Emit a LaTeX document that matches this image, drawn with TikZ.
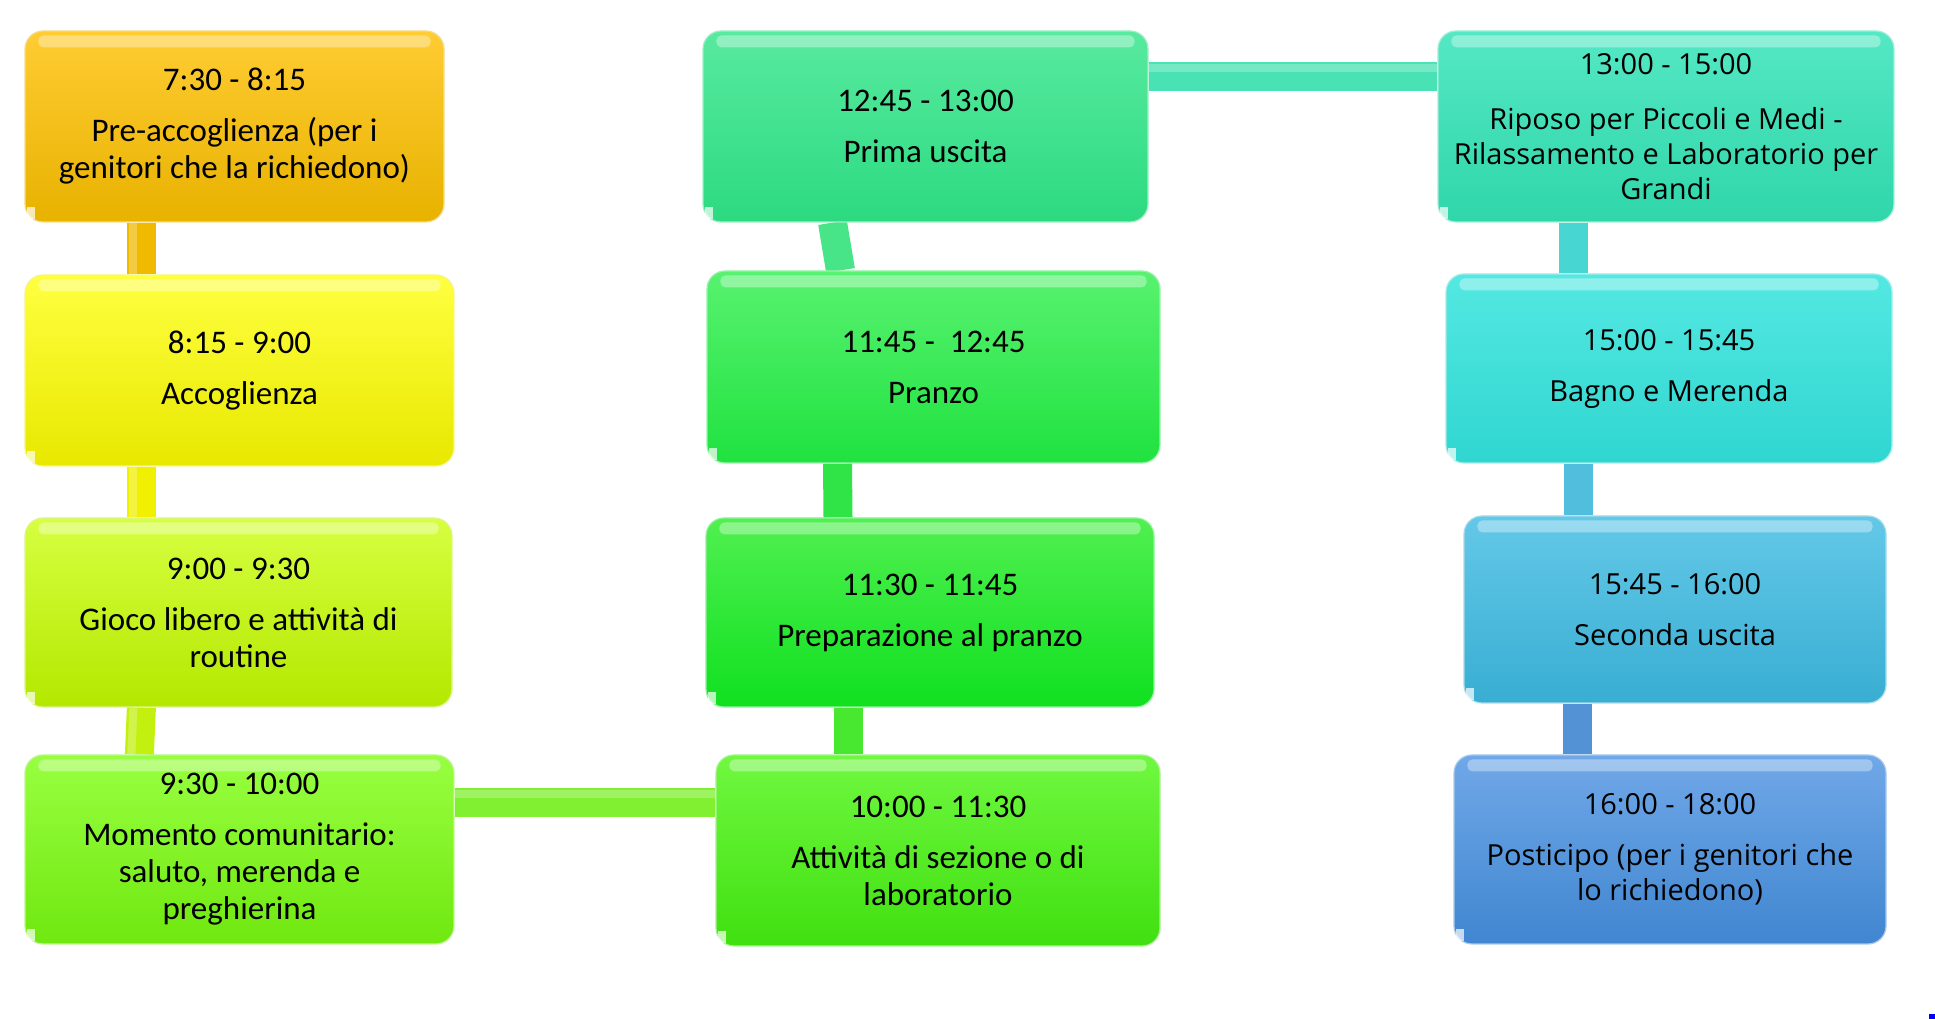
\documentclass[tikz,border=0pt]{standalone}
\usepackage{fontspec}
\setmainfont{Carlito}
\newfontfamily\rightfont{Open Sans}
\usetikzlibrary{backgrounds}
\definecolor{t1}{RGB}{255,204,51}\definecolor{u1}{RGB}{232,178,0}
\definecolor{t2}{RGB}{255,255,64}\definecolor{u2}{RGB}{232,232,0}
\definecolor{t3}{RGB}{214,255,64}\definecolor{u3}{RGB}{180,232,0}
\definecolor{t4}{RGB}{152,255,64}\definecolor{u4}{RGB}{112,232,16}
\definecolor{t5}{RGB}{112,248,64}\definecolor{u5}{RGB}{64,224,16}
\definecolor{t6}{RGB}{80,240,80}\definecolor{u6}{RGB}{16,224,32}
\definecolor{t7}{RGB}{88,242,112}\definecolor{u7}{RGB}{32,226,64}
\definecolor{t8}{RGB}{88,234,160}\definecolor{u8}{RGB}{44,218,128}
\definecolor{t9}{RGB}{84,232,196}\definecolor{u9}{RGB}{48,214,170}
\definecolor{t10}{RGB}{84,232,226}\definecolor{u10}{RGB}{48,214,208}
\definecolor{t11}{RGB}{100,200,232}\definecolor{u11}{RGB}{56,174,210}
\definecolor{t12}{RGB}{112,168,232}\definecolor{u12}{RGB}{64,134,208}
\definecolor{c1}{RGB}{240,186,0}
\definecolor{c2}{RGB}{240,240,0}
\definecolor{c3}{RGB}{196,240,16}
\definecolor{c4}{RGB}{128,240,48}
\definecolor{c5}{RGB}{72,232,48}
\definecolor{c6}{RGB}{48,228,72}
\definecolor{c7}{RGB}{72,228,136}
\definecolor{c8}{RGB}{72,226,180}
\definecolor{c9}{RGB}{72,214,210}
\definecolor{c10}{RGB}{80,190,220}
\definecolor{c11}{RGB}{84,146,214}
\tikzset{
  box/.style={rounded corners=18pt, draw=white!55!u#1, line width=1.2pt, align=center,
    inner sep=0pt, top color=t#1, bottom color=u#1, font=\fontsize{33}{37}\selectfont},
  rbox/.style={box=#1, font=\rightfont\fontsize{29}{35}\selectfont},
  conn/.style={line width=29pt, draw=c#1},
  connhi/.style={line width=8pt, draw=white, opacity=0.25},
}
\newcommand{\gloss}[1]{%
  \fill[white, opacity=0.35, rounded corners=5pt]
    ([xshift=14pt,yshift=-5pt]#1.north west) rectangle ([xshift=-14pt,yshift=-17pt]#1.north east);
  \fill[white, opacity=0.7]
    ([xshift=3pt,yshift=4pt]#1.south west) rectangle ([xshift=11pt,yshift=16pt]#1.south west);
}
\begin{document}
\begin{tikzpicture}[x=1pt, y=1pt]
\useasboundingbox (0,0) rectangle (1935,1019);
% left column
\node[box=1, minimum width=419pt, minimum height=191pt] (b1) at (234.5,892.5)
  {7:30 - 8:15\\[14pt]Pre-accoglienza (per i\\genitori che la richiedono)};
\node[box=2, minimum width=429pt, minimum height=191pt] (b2) at (239.5,648.5)
  {8:15 - 9:00\\[14pt]Accoglienza};
\node[box=3, minimum width=427pt, minimum height=189pt] (b3) at (238.5,406.5)
  {9:00 - 9:30\\[14pt]Gioco libero e attività di\\routine};
\node[box=4, minimum width=429pt, minimum height=189pt] (b4) at (239.5,169.5)
  {9:30 - 10:00\\[14pt]Momento comunitario:\\saluto, merenda e\\preghierina};
% middle column
\node[box=5, minimum width=444pt, minimum height=191pt] (b5) at (938,168.5)
  {10:00 - 11:30\\[14pt]Attività di sezione o di\\laboratorio};
\node[box=6, minimum width=448pt, minimum height=189pt] (b6) at (930,406.5)
  {11:30 - 11:45\\[14pt]Preparazione al pranzo};
\node[box=7, minimum width=453pt, minimum height=192pt] (b7) at (933.5,652)
  {11:45 -\ \ 12:45\\[14pt]Pranzo};
\node[box=8, minimum width=445pt, minimum height=191pt] (b8) at (925.5,892.5)
  {12:45 - 13:00\\[14pt]Prima uscita};
% right column
\node[rbox=9, minimum width=456pt, minimum height=191pt] (b9) at (1666,892.5)
  {13:00 - 15:00\\[20pt]Riposo per Piccoli e Medi -\\Rilassamento e Laboratorio per\\Grandi};
\node[rbox=10, minimum width=446pt, minimum height=189pt] (b10) at (1669,650.5)
  {15:00 - 15:45\\[16pt]Bagno e Merenda};
\node[rbox=11, minimum width=422pt, minimum height=187pt] (b11) at (1675,409.5)
  {15:45 - 16:00\\[16pt]Seconda uscita};
\node[rbox=12, minimum width=432pt, minimum height=189pt] (b12) at (1670,169.5)
  {16:00 - 18:00\\[16pt]Posticipo (per i genitori che\\lo richiedono)};
\foreach \n in {b1,b2,b3,b4,b5,b6,b7,b8,b9,b10,b11,b12} {\gloss{\n}}
% connectors
\begin{scope}[on background layer]
\fill[white] (0,0) rectangle (1935,1019);
\draw[conn=1] ([xshift=117pt]b1.south west) -- ([xshift=117pt]b2.north west);
\draw[conn=2] ([xshift=117pt]b2.south west) -- ([xshift=117pt]b3.north west);
\draw[conn=3] ([xshift=117pt]b3.south west) -- ([xshift=115pt]b4.north west);
\draw[conn=4] ([yshift=47pt]b4.east) -- ([yshift=47pt]b4.east -| b5.west);
\draw[conn=5] ([xshift=-90pt]b5.north) -- ([xshift=-82pt]b6.south);
\draw[conn=6] ([xshift=-92pt]b6.north) -- ([xshift=-96pt]b7.south);
\draw[conn=7] ([xshift=-93pt]b7.north) -- ([xshift=-93pt]b8.south);
\draw[conn=8] ([yshift=-46pt]b8.north east) -- ([yshift=-46pt]b8.north east -| b9.west);
\draw[conn=9] ([xshift=-93pt]b9.south) -- ([xshift=-96pt]b10.north);
\draw[conn=10] ([xshift=-91pt]b10.south) -- ([xshift=-97pt]b11.north);
\draw[conn=11] ([xshift=-98pt]b11.south) -- ([xshift=-93pt]b12.north);
\draw[connhi] ([xshift=109pt]b1.south west) -- ([xshift=109pt]b2.north west);
\draw[connhi] ([xshift=109pt]b2.south west) -- ([xshift=109pt]b3.north west);
\draw[connhi] ([xshift=109pt]b3.south west) -- ([xshift=107pt]b4.north west);
\draw[connhi] ([yshift=55pt]b4.east) -- ([yshift=55pt]b4.east -| b5.west);
\draw[connhi] ([yshift=-38pt]b8.north east) -- ([yshift=-38pt]b8.north east -| b9.west);
\end{scope}
\fill[blue] (1929,0) rectangle (1935,5);
\end{tikzpicture}
\end{document}
